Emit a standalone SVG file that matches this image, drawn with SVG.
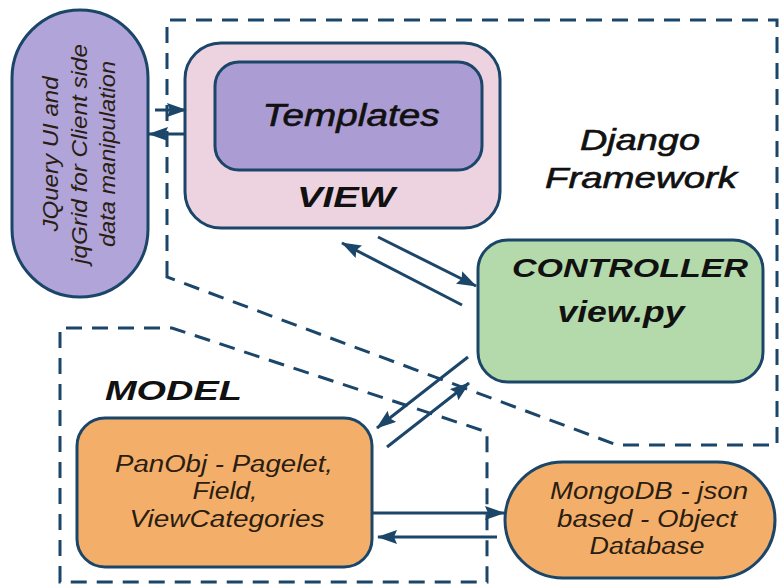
<svg xmlns="http://www.w3.org/2000/svg" width="780" height="586" viewBox="0 0 780 586">
<style>
.frame{fill:none;stroke:#1b4669;stroke-width:3;stroke-dasharray:16 10}
.box{stroke:#1b4669;stroke-width:3}
.con{stroke:#1b4669;stroke-width:3;fill:none;marker-end:url(#ah)}
text{font-family:"Liberation Sans",Arial,sans-serif;font-style:italic;fill:#111}
.b{font-weight:bold}
.m{stroke:#111;stroke-width:0.6}
.s{fill:#2a1d12}
</style>
<defs>
<marker id="ah" viewBox="0 0 20 14" refX="19" refY="7" markerWidth="20" markerHeight="14" orient="auto" markerUnits="userSpaceOnUse">
<path d="M0,0 L20,7 L0,14 L3,7 Z" fill="#1b4669"/>
</marker>
</defs>
<rect width="780" height="586" fill="#fff"/>
<g id="frames">
<path class="frame" d="M167 277 L167 20 L777 20 L777 445 L617 445 Z"/>
<path class="frame" d="M60 582 L60 328 L172 328 L487 432 L487 582 Z"/>
</g>
<g id="jquery">
<rect class="box" x="12" y="10" width="136" height="287" rx="68" fill="#b0a4d8"/>
<g transform="translate(80,154) rotate(-90)" font-size="22" text-anchor="middle">
<text class="s" x="0" y="-22" textLength="155" lengthAdjust="spacingAndGlyphs">JQuery UI and</text>
<text class="s" x="0" y="7" textLength="220" lengthAdjust="spacingAndGlyphs">jqGrid for Client side</text>
<text class="s" x="0" y="35" textLength="186" lengthAdjust="spacingAndGlyphs">data manipulation</text>
</g>
</g>
<g id="view">
<rect class="box" x="185" y="43" width="315" height="185" rx="36" fill="#ecd3df"/>
<rect class="box" x="215" y="62" width="267" height="108" rx="24" fill="#ab9dd3"/>
<text class="m" x="351" y="126" font-size="31" text-anchor="middle" textLength="177" lengthAdjust="spacingAndGlyphs">Templates</text>
<text class="b" x="346" y="207" font-size="29" text-anchor="middle" textLength="98" lengthAdjust="spacingAndGlyphs">VIEW</text>
</g>
<g id="django">
<text class="m" x="640" y="150" font-size="30" text-anchor="middle" textLength="120" lengthAdjust="spacingAndGlyphs">Django</text>
<text class="m" x="641" y="188" font-size="30" text-anchor="middle" textLength="192" lengthAdjust="spacingAndGlyphs">Framework</text>
</g>
<g id="controller">
<rect class="box" x="478" y="240" width="285" height="142" rx="30" fill="#b4d9aa"/>
<text class="b" x="630" y="277" font-size="26" text-anchor="middle" textLength="236" lengthAdjust="spacingAndGlyphs">CONTROLLER</text>
<text class="b" x="621" y="322" font-size="30" text-anchor="middle" textLength="127" lengthAdjust="spacingAndGlyphs">view.py</text>
</g>
<g id="model">
<text class="b" x="105" y="400" font-size="28" textLength="137" lengthAdjust="spacingAndGlyphs">MODEL</text>
<rect class="box" x="77" y="418" width="295" height="149" rx="28" fill="#f3ae69"/>
<text class="s" x="224" y="472" font-size="23" text-anchor="middle" textLength="218" lengthAdjust="spacingAndGlyphs">PanObj - Pagelet,</text>
<text class="s" x="225" y="499" font-size="23" text-anchor="middle" textLength="65" lengthAdjust="spacingAndGlyphs">Field,</text>
<text class="s" x="227" y="527" font-size="23" text-anchor="middle" textLength="195" lengthAdjust="spacingAndGlyphs">ViewCategories</text>
</g>
<g id="mongodb">
<rect class="box" x="505" y="462" width="270" height="116" rx="58" fill="#f3ae69"/>
<text class="s" x="649" y="499" font-size="23" text-anchor="middle" textLength="198" lengthAdjust="spacingAndGlyphs">MongoDB - json</text>
<text class="s" x="647" y="527" font-size="23" text-anchor="middle" textLength="180" lengthAdjust="spacingAndGlyphs">based - Object</text>
<text class="s" x="647" y="554" font-size="23" text-anchor="middle" textLength="115" lengthAdjust="spacingAndGlyphs">Database</text>
</g>
<g id="connectors">
<line class="con" x1="155" y1="110" x2="186" y2="110"/>
<line class="con" x1="186" y1="134" x2="149" y2="134"/>
<line class="con" x1="378" y1="237" x2="476" y2="286"/>
<line class="con" x1="462" y1="305" x2="342" y2="243"/>
<line class="con" x1="468" y1="357" x2="377" y2="428"/>
<line class="con" x1="387" y1="447" x2="469" y2="383"/>
<line class="con" x1="372" y1="513" x2="504" y2="513"/>
<line class="con" x1="497" y1="537" x2="378" y2="537"/>
</g>
</svg>
